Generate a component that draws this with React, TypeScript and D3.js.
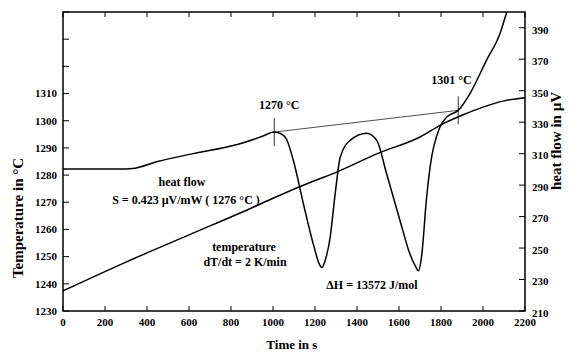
import React, { useRef, useEffect } from 'react';
import * as d3 from 'd3';

// temperature curve (left axis, °C)
const tempTime = [0, 300, 600, 900, 1000, 1200, 1300, 1500, 1700, 1800, 1900, 2000, 2100, 2200];
const tempValue = [1237.4, 1248, 1258, 1268, 1271.5, 1278, 1281, 1288, 1294, 1298.5, 1302, 1305, 1307.3, 1308.5];

// heat flow curve (right axis, µV)
const flowTime = [0, 300, 330, 450, 620, 830, 950, 1005, 1040, 1065, 1097, 1145, 1192, 1220, 1233, 1248, 1272, 1296, 1320, 1367, 1446, 1494, 1541, 1605, 1652, 1680, 1692, 1708, 1730, 1748, 1795, 1827, 1882, 1938, 2017, 2081, 2113];
const flowValue = [300.3, 300.3, 300.5, 305, 310, 315.8, 321, 323.7, 322.5, 319, 305.6, 278, 252.5, 240, 237.6, 242, 256.7, 284.4, 307.7, 318.4, 323, 318.4, 297.2, 267.4, 246.2, 238, 235.5, 245, 280, 301.4, 326.9, 333.2, 337.5, 348.2, 369.4, 386.4, 400];

// onset markers: time, heat flow at the curve, label
const onsetTime = [1006, 1882];
const onsetFlow = [323.7, 337.5];
const onsetLabel = ['1270 °C', '1301 °C'];

const xTicks = [0, 200, 400, 600, 800, 1000, 1200, 1400, 1600, 1800, 2000, 2200];
const leftTicks = [1230, 1240, 1250, 1260, 1270, 1280, 1290, 1300, 1310, 1320, 1330, 1340];
const leftLabels = [1230, 1240, 1250, 1260, 1270, 1280, 1290, 1300, 1310];
const rightTicks = [210, 230, 250, 270, 290, 310, 330, 350, 370, 390];

export default function App() {
  const ref = useRef<SVGSVGElement>(null);

  useEffect(() => {
    const width = 569;
    const height = 354;
    const margin = { top: 12, right: 44, bottom: 43, left: 63 };
    const w = width - margin.left - margin.right;
    const h = height - margin.top - margin.bottom;
    const font = '"Liberation Serif", "Times New Roman", serif';

    const svg = d3.select(ref.current);
    svg.selectAll('*').remove();

    const x = d3.scaleLinear().domain([0, 2200]).range([0, w]);
    const yT = d3.scaleLinear().domain([1230, 1340]).range([h, 0]);
    const yF = d3.scaleLinear().domain([210, 400]).range([h, 0]);

    svg.append('defs').append('clipPath').attr('id', 'plot')
      .append('rect').attr('width', w).attr('height', h);

    const g = svg.append('g')
      .attr('transform', `translate(${margin.left},${margin.top})`)
      .style('font-family', font)
      .style('font-weight', 'bold');

    // frame
    g.append('rect')
      .attr('width', w).attr('height', h)
      .attr('fill', 'none').attr('stroke', '#000').attr('stroke-width', 1.5);

    // x ticks bottom + top (inward)
    const tl = 5;
    xTicks.forEach(t => {
      g.append('line').attr('x1', x(t)).attr('x2', x(t)).attr('y1', h).attr('y2', h - tl)
        .attr('stroke', '#000').attr('stroke-width', 1);
      g.append('line').attr('x1', x(t)).attr('x2', x(t)).attr('y1', 0).attr('y2', tl)
        .attr('stroke', '#000').attr('stroke-width', 1);
      g.append('text').attr('x', x(t)).attr('y', h + 15)
        .attr('text-anchor', 'middle').attr('font-size', 11).text(t);
    });

    leftTicks.forEach(t => {
      g.append('line').attr('x1', 0).attr('x2', 6).attr('y1', yT(t)).attr('y2', yT(t))
        .attr('stroke', '#000').attr('stroke-width', 1);
    });
    leftLabels.forEach(t => {
      g.append('text').attr('x', -6).attr('y', yT(t)).attr('dy', '0.35em')
        .attr('text-anchor', 'end').attr('font-size', 11).text(t);
    });

    rightTicks.forEach(t => {
      g.append('line').attr('x1', w).attr('x2', w - 6).attr('y1', yF(t)).attr('y2', yF(t))
        .attr('stroke', '#000').attr('stroke-width', 1);
      g.append('text').attr('x', w + 7).attr('y', yF(t) + 2).attr('dy', '0.35em')
        .attr('text-anchor', 'start').attr('font-size', 11).text(t);
    });

    // axis titles
    g.append('text').attr('x', x(1090)).attr('y', h + 38)
      .attr('text-anchor', 'middle').attr('font-size', 13).text('Time in s');
    svg.append('text').attr('transform', 'translate(23,218) rotate(-90)')
      .attr('text-anchor', 'middle').attr('font-size', 15)
      .style('font-family', font).style('font-weight', 'bold').text('Temperature in °C');
    svg.append('text').attr('transform', 'translate(561,141) rotate(-90)')
      .attr('text-anchor', 'middle').attr('font-size', 15)
      .style('font-family', font).style('font-weight', 'bold').text('heat flow in µV');

    const plot = g.append('g').attr('clip-path', 'url(#plot)');

    // temperature
    const tempData = tempTime.map((t, i) => [t, tempValue[i]] as [number, number]);
    plot.append('path')
      .datum(tempData)
      .attr('fill', 'none').attr('stroke', '#000').attr('stroke-width', 1.5)
      .attr('d', d3.line<[number, number]>().x(d => x(d[0])).y(d => yT(d[1])).curve(d3.curveMonotoneX));

    // heat flow
    const flowData = flowTime.map((t, i) => [t, flowValue[i]] as [number, number]);
    plot.append('path')
      .datum(flowData)
      .attr('fill', 'none').attr('stroke', '#000').attr('stroke-width', 1.5)
      .attr('d', d3.line<[number, number]>().x(d => x(d[0])).y(d => yF(d[1])).curve(d3.curveMonotoneX));

    // baseline between onsets
    g.append('line')
      .attr('x1', x(onsetTime[0])).attr('y1', yF(onsetFlow[0]))
      .attr('x2', x(onsetTime[1])).attr('y2', yF(onsetFlow[1]))
      .attr('stroke', '#000').attr('stroke-width', 0.7);

    onsetTime.forEach((t, i) => {
      g.append('line')
        .attr('x1', x(t)).attr('x2', x(t))
        .attr('y1', yF(onsetFlow[i]) - 14).attr('y2', yF(onsetFlow[i]) + 14)
        .attr('stroke', '#000').attr('stroke-width', 0.8);
    });
    g.append('text').attr('x', x(1030)).attr('y', yF(onsetFlow[0]) - 23)
      .attr('text-anchor', 'middle').attr('font-size', 12).text(onsetLabel[0]);
    g.append('text').attr('x', x(1850)).attr('y', yF(onsetFlow[1]) - 26)
      .attr('text-anchor', 'middle').attr('font-size', 12).text(onsetLabel[1]);

    // annotations
    const note = (tx: number, ty: number, s: string) =>
      svg.append('text').attr('x', tx).attr('y', ty).attr('text-anchor', 'middle')
        .attr('font-size', 12).style('font-family', font).style('font-weight', 'bold').text(s);
    note(182, 186, 'heat flow');
    note(186, 204, 'S = 0.423 µV/mW ( 1276 °C )');
    note(244, 251, 'temperature');
    note(245, 266, 'dT/dt = 2 K/min');
    note(372, 289, 'ΔH = 13572 J/mol');
  }, []);

  return (
    <svg ref={ref} width={569} height={354}
      style={{ position: 'absolute', left: 0, top: 0, display: 'block', background: '#fff' }} />
  );
}
